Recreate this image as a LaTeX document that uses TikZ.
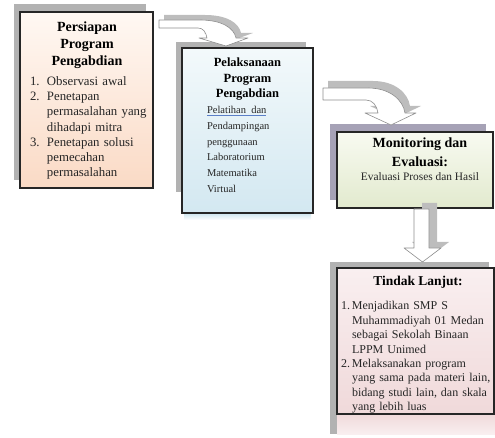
\documentclass[tikz,border=0pt]{standalone}
\usepackage{fontspec}
\setmainfont{Liberation Serif}
\usepackage{tikz}
\usetikzlibrary{positioning}

\definecolor{shgray}{HTML}{B2B2B2}
\definecolor{shpurple}{HTML}{A6A2B6}
\definecolor{arrgray}{HTML}{8E8E8E}
\definecolor{arrshade}{HTML}{BDBDBD}
\definecolor{ulblue}{HTML}{5B7FC7}
\definecolor{peachtop}{HTML}{FFF8F3}
\definecolor{peachbot}{HTML}{FADAC5}
\definecolor{bluetop}{HTML}{F3F9FB}
\definecolor{bluebot}{HTML}{D3E8F1}
\definecolor{greentop}{HTML}{F8FAF1}
\definecolor{greenbot}{HTML}{E2EACE}
\definecolor{pinktop}{HTML}{F9EFF0}
\definecolor{pinkbot}{HTML}{F0D9DA}

\newcommand{\itm}[3][11pt]{\par\noindent\hangindent=#1\hangafter=1\makebox[#1][l]{#2}#3}
\newcommand{\nl}{\hfil\break}

\begin{document}
\begin{tikzpicture}[x=1pt, y=-1pt,
  every node/.style={inner sep=0pt, outer sep=0pt},
  box/.style={draw=black!85, line width=1.1pt, anchor=north west},
  title/.style={anchor=north, align=center, font=\bfseries},
  body/.style={anchor=north west, text=black!85},
  blockarrow/.style={fill=white, draw=arrgray, line width=0.6pt, line join=round},
  arrowshade/.style={fill=arrshade}]
  \useasboundingbox (0,0) rectangle (495,438);

  % shadows behind the boxes
  \fill[shgray] (14,4) rectangle (146,180);
  \fill[shgray] (176,42) rectangle (306,192);
  \fill[shpurple] (330,124) rectangle (486,200);
  \fill[shgray] (330,262) rectangle (489,434);
  \fill[top color=bluebot, bottom color=white] (184,214) rectangle (311,220);
  \fill[top color=pinkbot, bottom color=pinktop] (337,414) rectangle (495,434);

  % boxes
  \node (prep) [box, top color=peachtop, bottom color=peachbot, minimum width=133pt, minimum height=176pt] at (20,12) {};
  \node (exec) [box, top color=bluetop, bottom color=bluebot, minimum width=131pt, minimum height=165pt] at (182,48) {};
  \node (mon) [box, top color=greentop, bottom color=greenbot, minimum width=156pt, minimum height=76pt] at (337,132) {};
  \node (next) [box, top color=pinktop, bottom color=pinkbot, minimum width=157pt, minimum height=146pt] at (337,268) {};

  % texts
  \node (prepTitle) [title, font=\fontsize{14}{17}\selectfont\bfseries] at (87,21.5) {Persiapan\\Program\\Pengabdian};
  \node (prepBody) [body, text width=121pt, font=\fontsize{12.8}{15.2}\selectfont] at (30,70.3)
    {\itm[17pt]{1.}{Observasi awal}\itm[17pt]{2.}{Penetapan\nl permasalahan yang\nl dihadapi mitra}\itm[17pt]{3.}{Penetapan solusi\nl pemecahan\nl permasalahan}\par};
  \node (execTitle) [title, font=\fontsize{12.5}{15.5}\selectfont\bfseries] at (247.5,58) {Pelaksanaan\\Program\\Pengabdian};
  \node (execBody) [body, align=left, font=\fontsize{10.5}{15.7}\selectfont] at (207,106.5)
    {{\color{ulblue}\underline{\color{black!85}Pelatihan\ \ dan}}\\Pendampingan\\penggunaan\\Laboratorium\\Matematika\\Virtual};
  \node (monTitle) [title, font=\fontsize{14}{18.5}\selectfont\bfseries] at (420,138) {Monitoring dan\\Evaluasi:};
  \node (monBody) [title, font=\fontsize{11.4}{13}\selectfont, text=black!85] at (420,172.5) {Evaluasi Proses dan Hasil};
  \node (nextTitle) [title, font=\fontsize{13.5}{16}\selectfont\bfseries] at (418,276.5) {Tindak Lanjut:};
  \node (nextBody) [body, text width=152pt, font=\fontsize{12}{14.4}\selectfont] at (341,295.5)
    {\itm{1.}{Menjadikan SMP S\nl Muhammadiyah 01 Medan\nl sebagai Sekolah Binaan\nl LPPM Unimed}\itm{2.}{Melaksanakan program\nl yang sama pada materi lain,\nl bidang studi lain, dan skala\nl yang lebih luas}\par};

  % block arrows
  \fill[arrowshade, shift={(5,-5)}] (159,20) -- (200,20) .. controls (222,20) and (234,28) .. (236,38) -- (248,38) -- (226,46) -- (199,38) -- (207,38) .. controls (206,32) and (203,28) .. (198,28) -- (159,28) -- cycle;
  \draw[blockarrow] (159,20) -- (200,20) .. controls (222,20) and (234,28) .. (236,38) -- (248,38) -- (226,46) -- (199,38) -- (207,38) .. controls (206,32) and (203,28) .. (198,28) -- (159,28) -- cycle;
  \fill[arrowshade, shift={(5,-7)}] (323,88) -- (368,88) .. controls (390,88) and (403,100) .. (405,113) -- (416,113) -- (391,125) -- (365,113) -- (378,113) .. controls (377,106) and (373,100) .. (366,100) -- (323,100) -- cycle;
  \draw[blockarrow] (323,88) -- (368,88) .. controls (390,88) and (403,100) .. (405,113) -- (416,113) -- (391,125) -- (365,113) -- (378,113) .. controls (377,106) and (373,100) .. (366,100) -- (323,100) -- cycle;
  \fill[arrowshade, shift={(8,-6)}] (414,209) -- (429,209) -- (429,248) -- (441,248) -- (422.5,262) -- (404,248) -- (414,248) -- cycle;
  \draw[blockarrow] (414,209) -- (429,209) -- (429,248) -- (441,248) -- (422.5,262) -- (404,248) -- (414,248) -- cycle;
\end{tikzpicture}
\end{document}
